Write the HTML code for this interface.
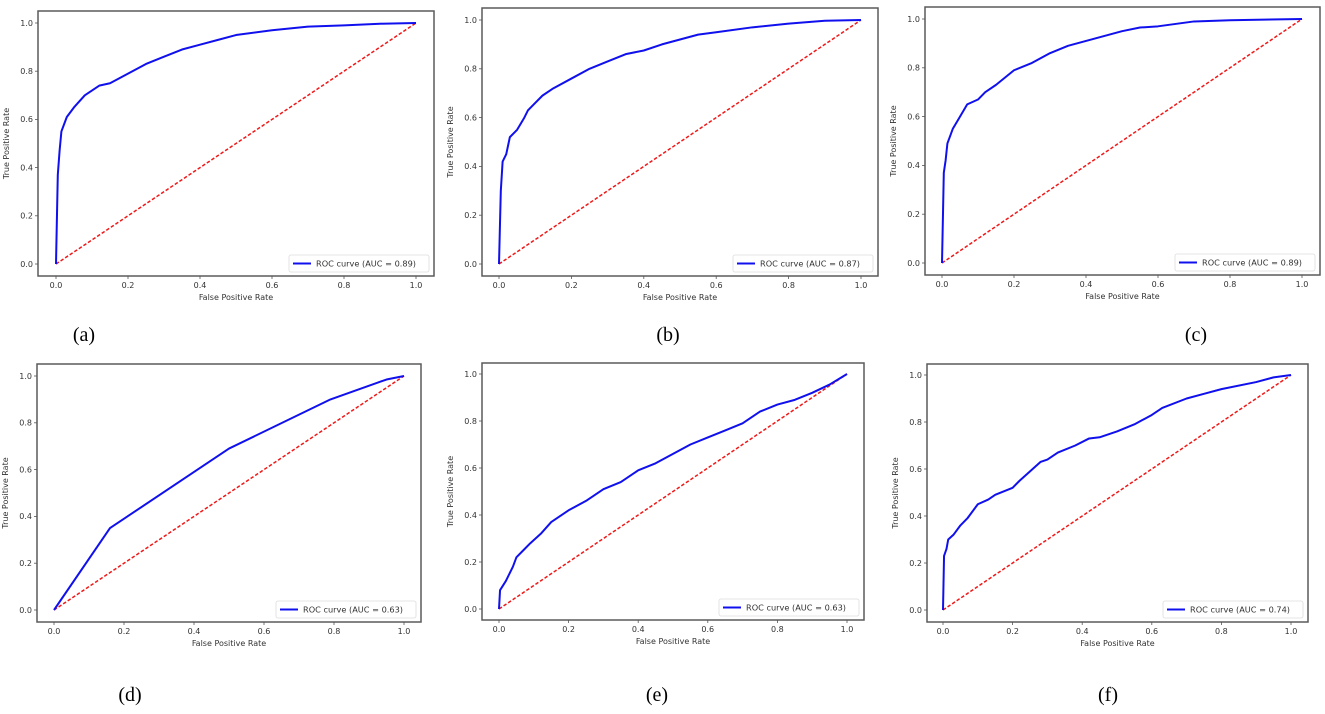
<!DOCTYPE html>
<html>
<head>
<meta charset="utf-8">
<style>
  html,body{margin:0;padding:0;background:#fff;}
  body{width:1325px;height:709px;overflow:hidden;}
  svg text{font-family:"DejaVu Sans","Liberation Sans",sans-serif;fill:#333;}
  .cap{font-family:"Liberation Serif",serif;fill:#000;}
</style>
</head>
<body>
<svg id="fig" width="1325" height="709" viewBox="0 0 1325 709" xmlns="http://www.w3.org/2000/svg"></svg>
<script>
// ===== Data (FPR / TPR arrays per panel) =====
const fprA = [0,0.002,0.005,0.01,0.015,0.03,0.05,0.08,0.12,0.15,0.2,0.25,0.3,0.35,0.4,0.45,0.5,0.6,0.7,0.8,0.9,1];
const tprA = [0,0.15,0.37,0.47,0.55,0.61,0.65,0.70,0.74,0.75,0.79,0.83,0.86,0.89,0.91,0.93,0.95,0.97,0.985,0.99,0.997,1];
const fprB = [0,0.002,0.005,0.01,0.02,0.03,0.05,0.07,0.08,0.1,0.12,0.15,0.2,0.25,0.3,0.35,0.4,0.45,0.5,0.55,0.6,0.7,0.8,0.9,1];
const tprB = [0,0.12,0.3,0.42,0.45,0.52,0.55,0.6,0.63,0.66,0.69,0.72,0.76,0.80,0.83,0.86,0.875,0.90,0.92,0.94,0.95,0.97,0.985,0.997,1];
const fprC = [0,0.003,0.005,0.01,0.015,0.03,0.05,0.07,0.1,0.12,0.15,0.2,0.25,0.3,0.35,0.4,0.45,0.5,0.55,0.6,0.7,0.8,1];
const tprC = [0,0.22,0.37,0.42,0.49,0.55,0.6,0.65,0.67,0.70,0.73,0.79,0.82,0.86,0.89,0.91,0.93,0.95,0.965,0.97,0.99,0.995,1];
const fprD = [0,0.16,0.5,0.79,0.95,1];
const tprD = [0,0.35,0.69,0.9,0.985,1];
const fprE = [0,0.003,0.02,0.04,0.05,0.07,0.09,0.12,0.15,0.2,0.25,0.3,0.35,0.4,0.45,0.5,0.55,0.6,0.65,0.7,0.75,0.8,0.85,0.9,0.95,1];
const tprE = [0,0.08,0.12,0.18,0.22,0.25,0.28,0.32,0.37,0.42,0.46,0.51,0.54,0.59,0.62,0.66,0.70,0.73,0.76,0.79,0.84,0.87,0.89,0.92,0.955,1];
const fprF = [0,0.003,0.01,0.015,0.03,0.05,0.07,0.1,0.13,0.15,0.2,0.22,0.25,0.28,0.3,0.33,0.38,0.42,0.45,0.5,0.55,0.6,0.63,0.7,0.75,0.8,0.9,0.95,1];
const tprF = [0,0.23,0.26,0.3,0.32,0.36,0.39,0.45,0.47,0.49,0.52,0.55,0.59,0.63,0.64,0.67,0.70,0.73,0.735,0.76,0.79,0.83,0.86,0.9,0.92,0.94,0.97,0.99,1];
const aucLabels = ["0.89","0.87","0.89","0.63","0.63","0.74"];
const captions = ["(a)","(b)","(c)","(d)","(e)","(f)"];
const tickValues = [0,0.2,0.4,0.6,0.8,1.0];
const tickLabels = ["0.0","0.2","0.4","0.6","0.8","1.0"];
const seriesX = [fprA,fprB,fprC,fprD,fprE,fprF];
const seriesY = [tprA,tprB,tprC,tprD,tprE,tprF];

// ===== Layout (frame + data-range pixel geometry) =====
const layout = [
  {L:38,T:11,R:434,B:276,x0:56,x1:416,y0:264,y1:23,cx:84,cy:341},
  {L:482,T:8,R:878,B:276,x0:499,x1:861,y0:264,y1:20,cx:668,cy:341},
  {L:925,T:7,R:1320,B:275,x0:942,x1:1302,y0:263,y1:19,cx:1196,cy:341},
  {L:37,T:364,R:421,B:622,x0:54,x1:404,y0:610,y1:376,cx:130,cy:701},
  {L:482,T:363,R:864,B:620,x0:499,x1:847,y0:609,y1:374,cx:657,cy:701},
  {L:927,T:364,R:1308,B:622,x0:943,x1:1291,y0:610,y1:375,cx:1108,cy:701}
];

const NS = "http://www.w3.org/2000/svg";
const svg = document.getElementById('fig');
function mk(tag, attrs, parent){
  const e = document.createElementNS(NS, tag);
  for (const k in attrs) e.setAttribute(k, attrs[k]);
  (parent||svg).appendChild(e);
  return e;
}

layout.forEach((g, i) => {
  const letter = "abcdef"[i];
  const grp = mk('g', {});
  
  
  const sx = v => g.x0 + v * (g.x1 - g.x0);
  const sy = v => g.y0 - v * (g.y0 - g.y1);

  const frame = mk('rect', {x:g.L, y:g.T, width:g.R-g.L, height:g.B-g.T, fill:'#fff', stroke:'#5a5a5a', 'stroke-width':1.5}, grp);
  
  

  tickValues.forEach((t, k) => {
    const x = sx(t), y = sy(t);
    mk('line', {x1:x, y1:g.B, x2:x, y2:g.B+3, stroke:'#555', 'stroke-width':0.8}, grp);
    const xt = mk('text', {x:x, y:g.B+12, 'font-size':8, 'text-anchor':'middle'}, grp);
    xt.textContent = tickLabels[k];
    
    
    mk('line', {x1:g.L-3, y1:y, x2:g.L, y2:y, stroke:'#555', 'stroke-width':0.8}, grp);
    const yt = mk('text', {x:g.L-5, y:y+2.8, 'font-size':8, 'text-anchor':'end'}, grp);
    yt.textContent = tickLabels[k];
    
    
  });

  const xl = mk('text', {x:(g.L+g.R)/2, y:g.B+24, 'font-size':8, 'text-anchor':'middle'}, grp);
  xl.textContent = 'False Positive Rate';
  
  
  const ymid = (g.T+g.B)/2, yx = g.L-29;
  const yl = mk('text', {x:yx, y:ymid, 'font-size':8, 'text-anchor':'middle', transform:`rotate(-90 ${yx} ${ymid})`}, grp);
  yl.textContent = 'True Positive Rate';
  
  

  const diag = mk('line', {x1:sx(0), y1:sy(0), x2:sx(1), y2:sy(1), stroke:'#f01818', 'stroke-width':1.5, 'stroke-dasharray':'3.5,2'}, grp);
  
  

  const xs = seriesX[i], ys = seriesY[i];
  const d = xs.map((v, k) => (k ? 'L' : 'M') + sx(v).toFixed(2) + ' ' + sy(ys[k]).toFixed(2)).join(' ');
  const curve = mk('path', {d:d, fill:'none', stroke:'#1010ee', 'stroke-width':2, 'stroke-linejoin':'round'}, grp);
  
  

  const lw = 140, lh = 17, lx = g.R - 5 - lw, ly = g.B - 4 - lh;
  const leg = mk('g', {}, grp);
  
  
  mk('rect', {x:lx, y:ly, width:lw, height:lh, rx:2, fill:'#fff', stroke:'#ddd', 'stroke-width':0.8}, leg);
  mk('line', {x1:lx+4, y1:ly+lh/2, x2:lx+22, y2:ly+lh/2, stroke:'#1010ee', 'stroke-width':2}, leg);
  const lt = mk('text', {x:lx+27, y:ly+lh/2+3, 'font-size':8.2}, leg);
  lt.textContent = 'ROC curve (AUC = ' + aucLabels[i] + ')';

  const cap = mk('text', {x:g.cx, y:g.cy, 'font-size':20, 'text-anchor':'middle', class:'cap'}, svg);
  cap.textContent = captions[i];
  
  
});
</script>
</body>
</html>
